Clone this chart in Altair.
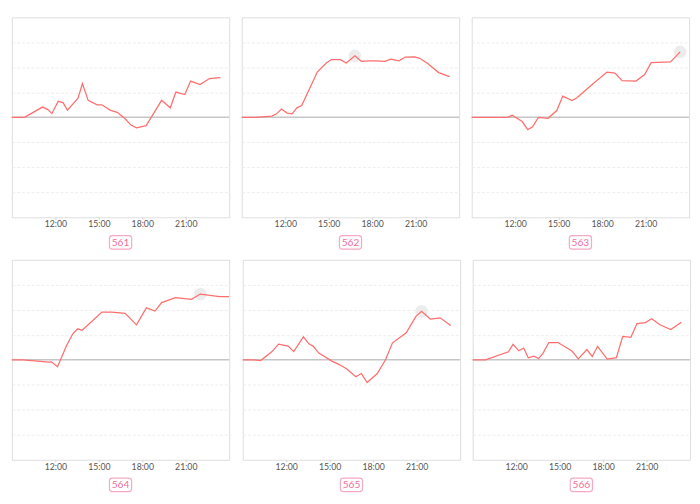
import altair as alt
import pandas as pd

labels = ["561", "562", "563", "564", "565", "566"]

times1 = ["09:00","09:52","11:07","11:29","11:46","12:12","12:32","12:50","13:34","13:52",
          "14:16","14:53","15:12","15:49","16:16","16:46","17:13","17:36","18:16","18:49",
          "19:20","19:56","20:19","20:56","21:20","21:59","22:38","23:23"]
vals1 = [0,0,0.41,0.31,0.15,0.64,0.59,0.29,0.77,1.35,
         0.68,0.5,0.5,0.28,0.2,-0.03,-0.31,-0.42,-0.33,0.19,
         0.68,0.38,1.01,0.91,1.45,1.31,1.55,1.59]

times2 = ["09:00","09:57","11:04","11:24","11:44","12:08","12:28","12:48","13:08","13:40",
          "14:13","14:51","15:11","15:48","16:13","16:48","17:15","17:44","18:17","18:51",
          "19:17","19:51","20:17","20:55","21:17","21:51","22:35","23:20"]
vals2 = [0,0,0.05,0.14,0.33,0.17,0.14,0.38,0.47,1.13,
         1.82,2.18,2.31,2.31,2.17,2.46,2.24,2.26,2.26,2.24,
         2.33,2.26,2.41,2.42,2.36,2.14,1.79,1.63]

times3 = ["09:00","11:29","11:47","12:29","12:52","13:12","13:36","14:16","14:52","15:17",
          "15:55","16:16","17:16","18:20","18:53","19:23","20:20","20:56","21:23","22:43",
          "23:23"]
vals3 = [0,0,0.08,-0.17,-0.49,-0.38,0,-0.04,0.27,0.85,
         0.67,0.78,1.29,1.81,1.77,1.47,1.45,1.71,2.19,2.22,
         2.62]

times4 = ["09:00","09:47","11:33","11:44","12:09","12:47","13:13","13:33","13:51","15:13",
          "15:53","16:49","17:36","18:17","18:53","19:20","20:17","21:24","22:00","23:20",
          "23:59"]
vals4 = [0,0,-0.09,-0.08,-0.28,0.58,1.05,1.24,1.18,1.91,
         1.91,1.86,1.4,2.08,1.95,2.29,2.49,2.42,2.63,2.53,
         2.53]

times5 = ["09:00","09:44","10:14","11:00","11:28","12:08","12:31","13:11","13:35","13:51",
          "14:15","15:11","15:40","16:11","16:48","17:11","17:35","18:17","18:51","19:20",
          "20:17","20:57","21:20","21:57","22:37","23:21"]
vals5 = [0,0,-0.03,0.32,0.63,0.55,0.33,0.92,0.63,0.55,
         0.27,-0.06,-0.19,-0.37,-0.68,-0.55,-0.91,-0.55,0,0.68,
         1.08,1.74,1.94,1.63,1.68,1.37]

times6 = ["09:00","09:53","11:28","11:47","12:11","12:31","12:50","13:13","13:33","13:51",
          "14:15","14:53","15:51","16:17","16:53","17:15","17:37","18:17","18:55","19:21",
          "19:55","20:20","20:55","21:21","21:55","22:40","23:24"]
vals6 = [0,0,0.32,0.62,0.36,0.47,0.08,0.15,0.05,0.26,
         0.69,0.69,0.35,0.04,0.41,0.13,0.54,0.03,0.09,0.94,
         0.9,1.45,1.49,1.64,1.4,1.21,1.5]

highlight = [None, "16:48", "23:23", "22:00", "21:20", None]

x_ticks = [12, 15, 18, 21]
grid_vals = [-3, -2, -1, 1, 2, 3]

all_times = [times1, times2, times3, times4, times5, times6]
all_vals = [vals1, vals2, vals3, vals4, vals5, vals6]

W, H = 225, 207
LINE = "#ff6e6e"
PINK_STROKE = "#f7a8c4"
PINK_TEXT = "#ef6d9c"


def to_h(t):
    h, m = t.split(":")
    return int(h) + int(m) / 60.0


xs = alt.Scale(domain=[9, 24], nice=False, zero=False)
ys = alt.Scale(domain=[-4, 4], nice=False, zero=False)
xax = alt.Axis(values=x_ticks, labelExpr="datum.value + ':00'", grid=False, domain=False,
               ticks=True, tickSize=2, tickColor="#d0d0d0", labelFontSize=9,
               labelColor="#555555", labelPadding=1, labelFont="Lato", title=None)
yax = alt.Axis(values=grid_vals, labels=False, ticks=False, domain=False, grid=True,
               gridColor="#ececec", gridDash=[3, 2], gridWidth=1, title=None)


def panel(i):
    df = pd.DataFrame({"t": [to_h(t) for t in all_times[i]], "v": all_vals[i]})
    X = alt.X("t:Q", scale=xs, axis=xax)
    Y = alt.Y("v:Q", scale=ys, axis=yax)
    zero = alt.Chart(pd.DataFrame({"t": [9.0], "v": [0.0]})).mark_rule(
        color="#c6c6c6", strokeWidth=1.5).encode(y=Y)
    layers = [zero]
    if highlight[i] is not None:
        hdf = pd.DataFrame({"t": [to_h(highlight[i])],
                            "v": [all_vals[i][all_times[i].index(highlight[i])]]})
        layers.append(alt.Chart(hdf).mark_circle(size=170, color="#e4e4e4", opacity=0.7)
                      .encode(x=X, y=Y))
    layers.append(alt.Chart(df).mark_line(color=LINE, strokeWidth=1.3).encode(x=X, y=Y))
    lab = pd.DataFrame({"label": [labels[i]]})
    layers.append(alt.Chart(lab).mark_rect(fill="white", stroke=PINK_STROKE, strokeWidth=1.2,
                                           cornerRadius=3)
                  .encode(x=alt.value(W / 2 - 11.5), x2=alt.value(W / 2 + 11.5),
                          y=alt.value(H + 19), y2=alt.value(H + 33)))
    layers.append(alt.Chart(lab).mark_text(color=PINK_TEXT, fontSize=10.5, font="Lato",
                                           baseline="middle", align="center")
                  .encode(text="label:N", x=alt.value(W / 2), y=alt.value(H + 26.5)))
    return alt.layer(*layers).properties(width=W, height=H)


row1 = alt.hconcat(panel(0), panel(1), panel(2), spacing=7)
row2 = alt.hconcat(panel(3), panel(4), panel(5), spacing=7)
chart = alt.vconcat(row1, row2, spacing=8).properties(
    padding={"left": 0, "top": 0, "right": 0, "bottom": 0}
).configure_view(stroke="#e2e2e2", strokeWidth=1.5).configure(background="white")

chart.save("out.html", embed_options={"renderer": "svg", "actions": False})
